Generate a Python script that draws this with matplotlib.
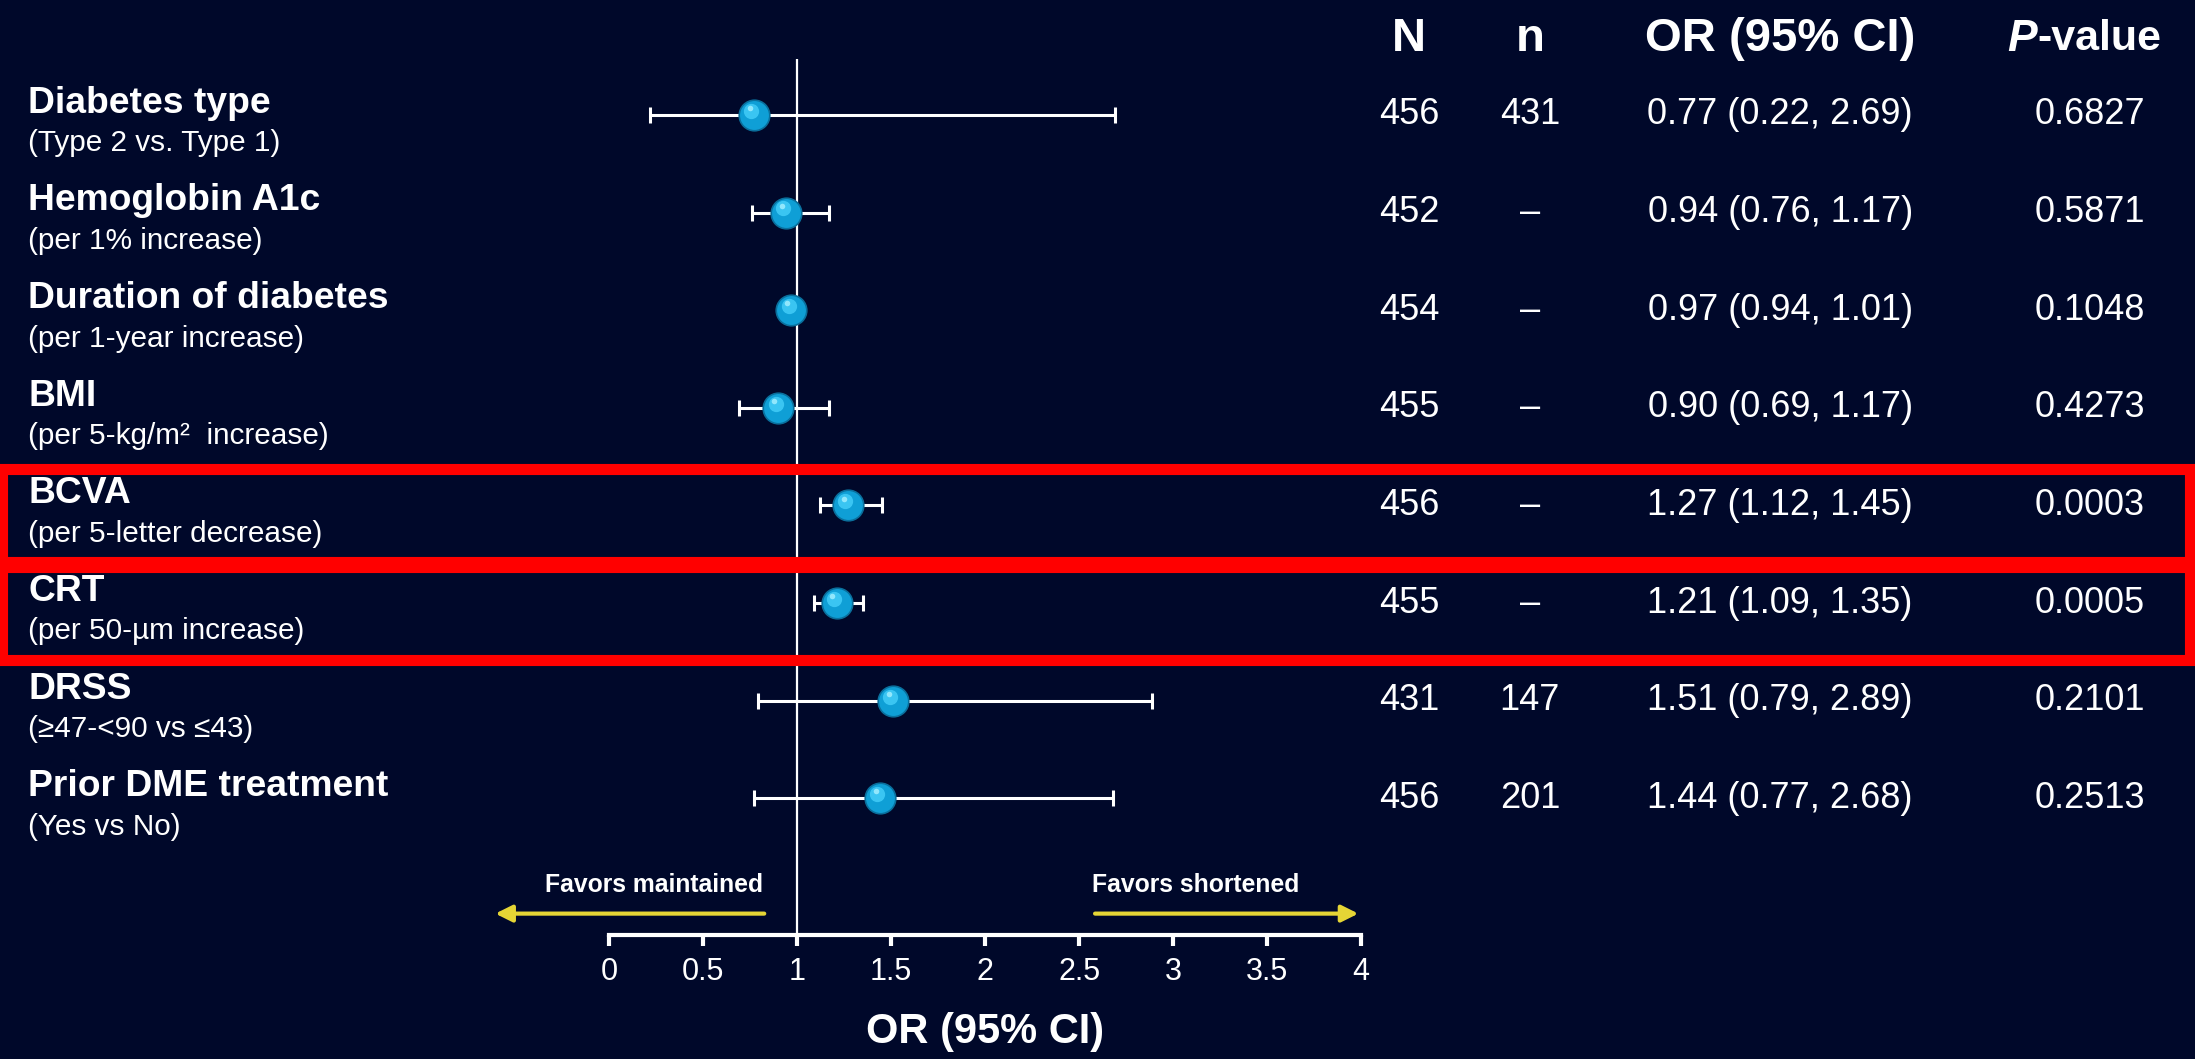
import matplotlib
matplotlib.use('Agg')
import matplotlib.pyplot as plt
import matplotlib.transforms as mtransforms
from matplotlib.patches import Rectangle
import numpy as np

plt.rcParams['font.family'] = ['Liberation Sans', 'DejaVu Sans']

# data
titles = ['Diabetes type', 'Hemoglobin A1c', 'Duration of diabetes', 'BMI',
          'BCVA', 'CRT', 'DRSS', 'Prior DME treatment']
subtitles = ['(Type 2 vs. Type 1)', '(per 1% increase)', '(per 1-year increase)',
             '(per 5-kg/m\u00b2  increase)', '(per 5-letter decrease)',
             '(per 50-\u00b5m increase)', '(\u226547-<90 vs \u226443)', '(Yes vs No)']
N = ['456', '452', '454', '455', '456', '455', '431', '456']
n = ['431', '\u2013', '\u2013', '\u2013', '\u2013', '\u2013', '147', '201']
odds = [0.77, 0.94, 0.97, 0.90, 1.27, 1.21, 1.51, 1.44]
ci_low = [0.22, 0.76, 0.94, 0.69, 1.12, 1.09, 0.79, 0.77]
ci_high = [2.69, 1.17, 1.01, 1.17, 1.45, 1.35, 2.89, 2.68]
pvals = ['0.6827', '0.5871', '0.1048', '0.4273', '0.0003', '0.0005', '0.2101', '0.2513']
highlight = [4, 5]
xticks = [0, 0.5, 1, 1.5, 2, 2.5, 3, 3.5, 4]
xticklabels = ['0', '0.5', '1', '1.5', '2', '2.5', '3', '3.5', '4']

bg = '#00082a'
fig = plt.figure(figsize=(21.95, 10.59), dpi=100, facecolor=bg)
ax = fig.add_axes([0.2775, 0.117, 0.3426, 0.827])
ax.set_facecolor(bg)

rows = np.arange(len(titles))
odds = np.array(odds)
err = [odds - np.array(ci_low), np.array(ci_high) - odds]

ax.axvline(1, color='white', lw=1.6, zorder=1)
ax.errorbar(odds, rows, xerr=err, fmt='none', ecolor='white', elinewidth=2.2,
            capsize=6, capthick=2.2, zorder=2)
ax.plot(odds, rows, 'o', ms=22, mfc='#0f9fd6', mec='#0a6f9c', mew=1.2, zorder=3)
hl = ax.transData + mtransforms.ScaledTranslation(-2/72, 3/72, fig.dpi_scale_trans)
ax.plot(odds, rows, 'o', ms=11, mfc='#3fcaf6', mec='none', alpha=0.9, zorder=4, transform=hl)
hl2 = ax.transData + mtransforms.ScaledTranslation(-3/72, 5/72, fig.dpi_scale_trans)
ax.plot(odds, rows, 'o', ms=4, mfc='#a8f0ff', mec='none', alpha=0.8, zorder=5, transform=hl2)

ax.set_xlim(0, 4)
ax.set_ylim(8.40, -0.57)
ax.set_yticks([])
for s in ['top', 'right', 'left']:
    ax.spines[s].set_visible(False)
ax.spines['bottom'].set_color('white')
ax.spines['bottom'].set_linewidth(3)
ax.set_xticks(xticks)
ax.set_xticklabels(xticklabels)
ax.tick_params(axis='x', colors='white', length=8, width=3, labelsize=22, pad=8)
ax.set_xlabel('OR (95% CI)', color='white', fontsize=30, fontweight='bold', labelpad=18)

# text columns
tr = mtransforms.blended_transform_factory(fig.transFigure, ax.transData)
for i in rows:
    ax.text(0.0128, i - 0.12, titles[i], transform=tr, color='white', fontsize=26.8,
            fontweight='bold', va='center', ha='left')
    ax.text(0.0128, i + 0.29, subtitles[i], transform=tr, color='white', fontsize=21.4,
            va='center', ha='left')
    ax.text(0.642, i, N[i], transform=tr, color='white', fontsize=26, va='center', ha='center')
    ax.text(0.697, i, n[i], transform=tr, color='white', fontsize=26, va='center', ha='center')
    ax.text(0.811, i, '%.2f (%.2f, %.2f)' % (odds[i], ci_low[i], ci_high[i]), transform=tr,
            color='white', fontsize=26, va='center', ha='center')
    ax.text(0.952, i, pvals[i], transform=tr, color='white', fontsize=26, va='center', ha='center')

hy = 0.963
fig.text(0.642, hy, 'N', color='white', fontsize=34, fontweight='bold', ha='center', va='center')
fig.text(0.697, hy, 'n', color='white', fontsize=34, fontweight='bold', ha='center', va='center')
fig.text(0.811, hy, 'OR (95% CI)', color='white', fontsize=34, fontweight='bold', ha='center', va='center')
fig.text(0.928, hy, 'P', color='white', fontsize=32, fontweight='bold', style='italic', ha='right', va='center')
fig.text(0.928, hy, '-value', color='white', fontsize=31, fontweight='bold', ha='left', va='center')

# highlight boxes
for i in highlight:
    ax.add_patch(Rectangle((0.001, i - 0.37), 0.9965, 0.95, transform=tr, fill=False,
                           edgecolor='#ff0000', lw=8, clip_on=False, zorder=6))

# direction arrows
ay = 8.18
ax.annotate('', xy=(-0.62, ay), xytext=(0.84, ay),
            arrowprops=dict(arrowstyle='-|>,head_length=1.0,head_width=0.5', color='#e5d535', lw=3),
            annotation_clip=False)
ax.annotate('', xy=(4.0, ay), xytext=(2.57, ay),
            arrowprops=dict(arrowstyle='-|>,head_length=1.0,head_width=0.5', color='#e5d535', lw=3),
            annotation_clip=False)
ax.text(0.24, 7.89, 'Favors maintained', color='white', fontsize=17.8, fontweight='bold',
        ha='center', va='center')
ax.text(3.12, 7.89, 'Favors shortened', color='white', fontsize=17.8, fontweight='bold',
        ha='center', va='center')

fig.savefig('out.png', dpi=100, facecolor=bg)
